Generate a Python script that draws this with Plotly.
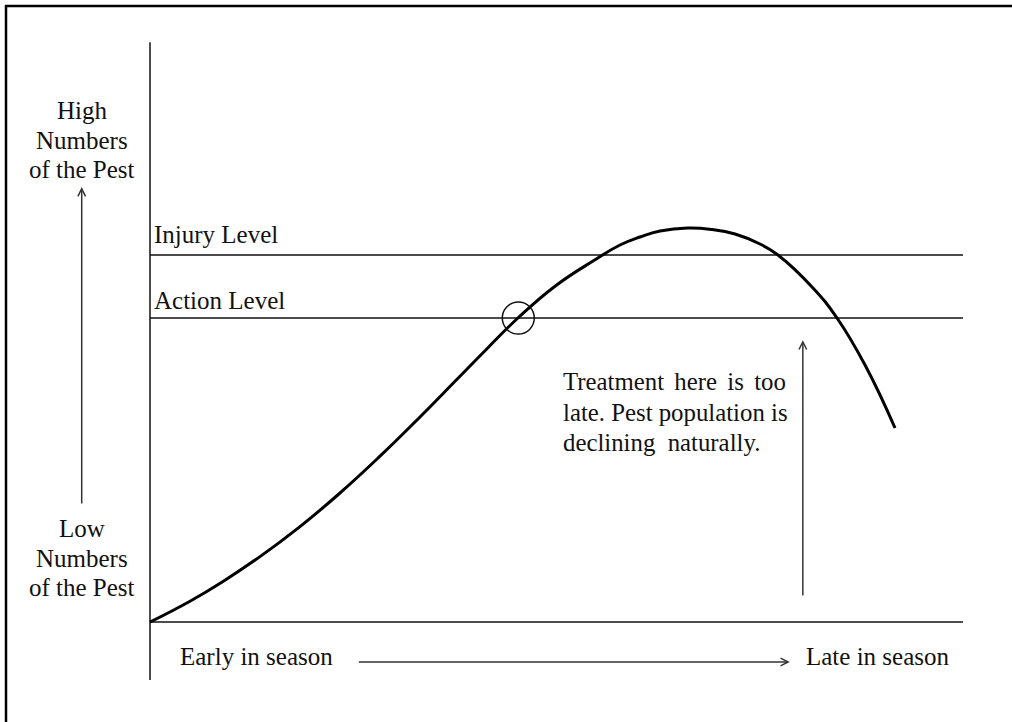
import plotly.graph_objects as go

# ---- data (season progress 0..100, pest numbers with injury level = 100) ----
season = [0, 4.92, 8.98, 13.53, 18.45, 23.37, 28.29, 33.21, 37.52, 41.45, 45.26, 49.82,
          54.74, 57.81, 60.27, 62.73, 66.17, 69.13, 71.96, 75.03, 77.24, 81.55, 84.50,
          87.95, 91.64]
pests = [0, 5.67, 11.06, 17.82, 25.99, 35.15, 45.18, 55.86, 65.59, 74.47, 82.83, 91.50,
         98.69, 102.72, 104.90, 106.54, 107.36, 106.95, 105.72, 103.00, 100.0, 91.01,
         82.83, 70.03, 52.86]

injury_level = 100.0
action_level = 82.8
season_end = 100.0
action_point = (45.3, 82.8)

level_labels = ["Injury Level", "Action Level"]
high_label = ["High", "Numbers", "of the Pest"]
low_label = ["Low", "Numbers", "of the Pest"]
NB = "\u00a0"
SP = "\u2006"
treat_text = [f"Treatment{SP} here{SP} is{SP} too",
              "late. Pest population is",
              f"declining{NB} naturally."]

FONT = "Liberation Serif"
INK = "#111111"

fig = go.Figure()

# reference lines
for lvl in [injury_level, action_level, 0]:
    fig.add_trace(go.Scatter(x=[0, season_end], y=[lvl, lvl], mode="lines",
                             line=dict(color=INK, width=1.5), hoverinfo="skip"))
# vertical axis line
fig.add_trace(go.Scatter(x=[0, 0], y=[-15.8, 158.0], mode="lines",
                         line=dict(color=INK, width=1.5), hoverinfo="skip"))
# pest curve
fig.add_trace(go.Scatter(x=season, y=pests, mode="lines",
                         line=dict(color="black", width=3, shape="spline", smoothing=1.3),
                         hoverinfo="skip"))
# circle at action point
fig.add_trace(go.Scatter(x=[action_point[0]], y=[action_point[1]], mode="markers",
                         marker=dict(symbol="circle-open", size=32, color=INK,
                                     line=dict(color=INK, width=1.5)),
                         hoverinfo="skip"))

ann = []
def txt(x, y, s, size=25, xanchor="center"):
    ann.append(dict(x=x, y=y, xref="x", yref="y", text=s, showarrow=False,
                    xanchor=xanchor, yanchor="middle",
                    font=dict(family=FONT, size=size, color=INK)))

for s, y in zip(high_label, [139.5, 131.3, 123.4]):
    txt(-8.36, y, s)
for s, y in zip(low_label, [25.6, 17.4, 9.5]):
    txt(-8.36, y, s)
txt(0.2, 105.7, level_labels[0], xanchor="left")
txt(0.2, 87.7, level_labels[1], xanchor="left")
txt(3.4, -9.5, "Early in season", xanchor="left")
txt(80.5, -9.3, "Late in season", xanchor="left")
for s, y in zip(treat_text, [65.4, 57.2, 49.0]):
    txt(50.6, y, s, size=24.8, xanchor="left")

def arrow(x, y, ax, ay):
    ann.append(dict(x=x, y=y, ax=ax, ay=ay, xref="x", yref="y", axref="x", ayref="y",
                    text="", showarrow=True, arrowhead=5, arrowsize=1.0,
                    arrowwidth=1.5, arrowcolor="#333333", standoff=0, startstandoff=0))

arrow(-8.4, 118.5, -8.4, 31.9)
arrow(80.3, 76.8, 80.3, 6.8)
arrow(78.7, -10.9, 25.5, -10.9)

shapes = [
    dict(type="line", xref="paper", yref="paper", x0=6/1012, x1=6/1012, y0=0, y1=1-5/722,
         line=dict(color="black", width=2.5)),
    dict(type="line", xref="paper", yref="paper", x0=5/1012, x1=1, y0=1-6/722, y1=1-6/722,
         line=dict(color="black", width=2.5)),
]

fig.update_layout(
    width=1012, height=722,
    margin=dict(l=0, r=0, t=0, b=0),
    paper_bgcolor="white", plot_bgcolor="white",
    showlegend=False,
    xaxis=dict(visible=False, range=[-150/8.13, 862/8.13], fixedrange=True),
    yaxis=dict(visible=False, range=[-100/3.67, 622/3.67], fixedrange=True),
    annotations=ann, shapes=shapes,
)

fig.write_html("out.html", config={"displayModeBar": False},
               post_script="document.body.style.margin='0';document.body.style.overflow='hidden';")
